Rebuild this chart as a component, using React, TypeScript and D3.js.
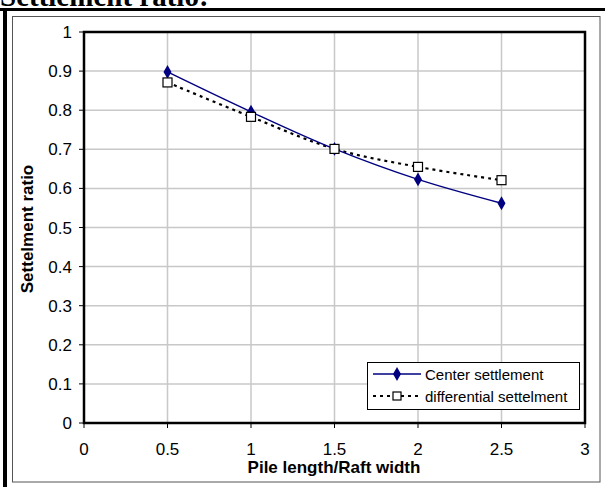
import React from "react";
import * as d3 from "d3";

const xValues = [0.5, 1, 1.5, 2, 2.5];
const centerSettlement = [0.898, 0.796, 0.701, 0.623, 0.562];
const differentialSettlement = [0.871, 0.783, 0.701, 0.655, 0.621];
const xTicks = [0, 0.5, 1, 1.5, 2, 2.5, 3];
const yTicks = [0, 0.1, 0.2, 0.3, 0.4, 0.5, 0.6, 0.7, 0.8, 0.9, 1];
const seriesNames = ["Center settlement", "differential settelment"];

export default function App() {
  const W = 605, H = 487;
  const x = d3.scaleLinear().domain([0, 3]).range([84, 585]);
  const y = d3.scaleLinear().domain([0, 1]).range([423, 32]);
  const smooth = d3.line<number>().x((_, i) => x(xValues[i])).y((d) => y(d)).curve(d3.curveCatmullRom.alpha(0.5));
  const font = "'Liberation Sans', Arial, sans-serif";
  const diamond = d3.symbol().type(d3.symbolDiamond).size(55)();
  return (
    <svg width={W} height={H} style={{ position: "absolute", left: 0, top: 0 }}>
      <rect x={0} y={0} width={W} height={H} fill="#fff" />
      <text x={0} y={6} fontFamily="'Liberation Serif', 'Times New Roman', serif" fontWeight="bold" fontSize={29}>Settlement ratio:</text>
      {/* outer frame */}
      <rect x={0} y={8} width={W} height={3} fill="#000" />
      <rect x={3} y={8} width={4} height={H - 8} fill="#000" />
      <rect x={12.5} y={16.5} width={587.5} height={465.5} fill="none" stroke="#555" strokeWidth={1} />
      {/* grid */}
      {xTicks.map((t) => (
        <line key={"gx" + t} x1={x(t)} x2={x(t)} y1={y(0)} y2={y(1)} stroke="#c8c8c8" strokeWidth={1.5} />
      ))}
      {yTicks.map((t) => (
        <line key={"gy" + t} x1={x(0)} x2={x(3)} y1={y(t)} y2={y(t)} stroke="#c8c8c8" strokeWidth={1.5} />
      ))}
      {/* plot border */}
      <rect x={x(0)} y={y(1)} width={x(3) - x(0)} height={y(0) - y(1)} fill="none" stroke="#000" strokeWidth={2.5} />
      {/* ticks */}
      {yTicks.map((t) => (
        <g key={"ty" + t}>
          <line x1={x(0) - 5} x2={x(0)} y1={y(t)} y2={y(t)} stroke="#000" strokeWidth={1} />
          <text x={x(0) - 12} y={y(t) + 6} textAnchor="end" fontFamily={font} fontSize={17}>{String(t)}</text>
        </g>
      ))}
      {xTicks.map((t) => (
        <g key={"tx" + t}>
          <line x1={x(t)} x2={x(t)} y1={y(0)} y2={y(0) + 5} stroke="#000" strokeWidth={1} />
          <text x={x(t)} y={455} textAnchor="middle" fontFamily={font} fontSize={17}>{String(t)}</text>
        </g>
      ))}
      <text x={334} y={473} textAnchor="middle" fontFamily={font} fontWeight="bold" fontSize={17}>Pile length/Raft width</text>
      <text transform="translate(33,229) rotate(-90)" textAnchor="middle" fontFamily={font} fontWeight="bold" fontSize={17}>Settelment ratio</text>
      {/* series */}
      <path d={smooth(differentialSettlement) || ""} fill="none" stroke="#000" strokeWidth={2.2} strokeDasharray="3,4" />
      <path d={smooth(centerSettlement) || ""} fill="none" stroke="#000080" strokeWidth={1.4} />
      {centerSettlement.map((v, i) => (
        <path key={"c" + i} d={diamond || ""} transform={`translate(${x(xValues[i])},${y(v)})`} fill="#000080" />
      ))}
      {differentialSettlement.map((v, i) => (
        <rect key={"d" + i} x={x(xValues[i]) - 4.5} y={y(v) - 4.5} width={9} height={9} fill="#fff" stroke="#000" strokeWidth={1.2} />
      ))}
      {/* legend */}
      <rect x={367.5} y={362.5} width={212} height={47} fill="#fff" stroke="#000" strokeWidth={1} />
      <line x1={373} x2={421} y1={374} y2={374} stroke="#000080" strokeWidth={1.4} />
      <path d={diamond || ""} transform="translate(397,374)" fill="#000080" />
      <text x={425} y={379.5} fontFamily={font} fontSize={15}>{seriesNames[0]}</text>
      <line x1={373} x2={421} y1={396} y2={396} stroke="#000" strokeWidth={2.2} strokeDasharray="3,4" />
      <rect x={393} y={392} width={8} height={8} fill="#fff" stroke="#000" strokeWidth={1.2} />
      <text x={425} y={401.5} fontFamily={font} fontSize={15}>{seriesNames[1]}</text>
    </svg>
  );
}
